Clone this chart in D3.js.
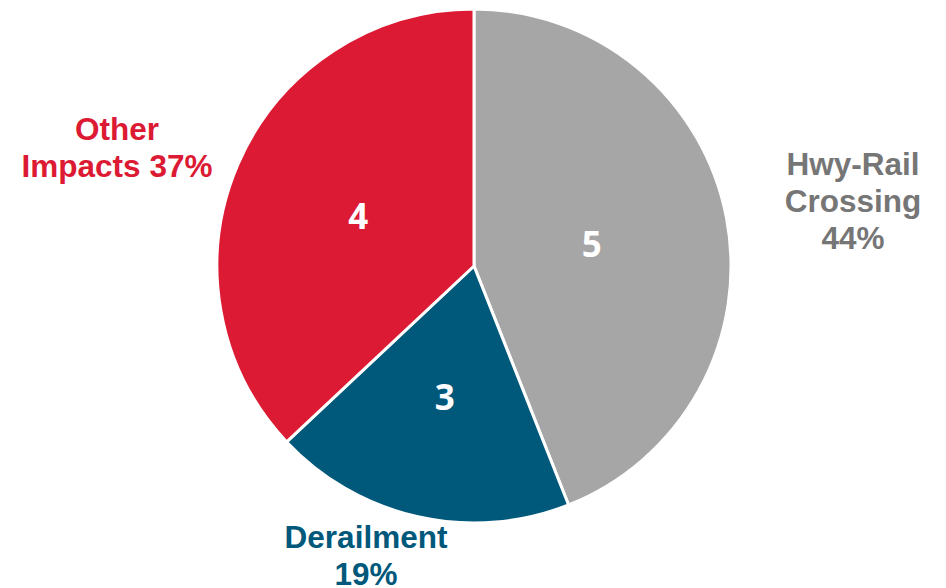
<!DOCTYPE html>
<html>
<head>
<meta charset="utf-8">
<script src="https://cdn.jsdelivr.net/npm/d3@7"></script>
<style>
  html, body { margin: 0; padding: 0; background: #fff; }
  svg { display: block; }
</style>
</head>
<body>
<svg id="chart" width="946" height="588"></svg>
<script>
// data
const categories = ['Hwy-Rail Crossing', 'Derailment', 'Other Impacts']
const counts = [5, 3, 4]
const percents = [44, 19, 37]
const labelLines = [['Hwy-Rail', 'Crossing', '44%'], ['Derailment', '19%'], ['Other', 'Impacts 37%']]

const colors = ['#a6a6a6', '#00587b', '#dc1a33']
const textColors = ['#767676', '#00587b', '#dc1a33']

const cx = 474, cy = 266, radius = 257

// outer label anchors, relative to the pie centre (first baseline)
const labelAnchor = [[379, -91], [-108, 282], [-357, -126]]
// distance of the count labels from the centre, per slice
const countRadius = [120, 134, 126]

const svg = d3.select('#chart')
const g = svg.append('g').attr('transform', `translate(${cx},${cy})`)

const rows = categories.map((c, i) => ({name: c, count: counts[i], pct: percents[i], i}))

const pie = d3.pie().sort(null).value(d => d.pct)
const arc = d3.arc().innerRadius(0).outerRadius(radius)

const arcs = pie(rows)

g.selectAll('path.slice').data(arcs).enter().append('path')
  .attr('class', 'slice')
  .attr('d', arc)
  .attr('fill', d => colors[d.data.i])
  .attr('stroke', '#fff')
  .attr('stroke-width', 3)
  .attr('stroke-linejoin', 'round')

// counts inside the slices
g.selectAll('text.count').data(arcs).enter().append('text')
  .attr('class', 'count')
  .attr('transform', d => {
    const r = countRadius[d.data.i]
    return `translate(${d3.arc().innerRadius(r).outerRadius(r).centroid(d)})`
  })
  .attr('text-anchor', 'middle')
  .attr('dominant-baseline', 'central')
  .attr('fill', '#fff')
  .style('font-family', '"Open Sans", sans-serif')
  .style('font-weight', 700)
  .style('font-size', '35px')
  .text(d => d.data.count)

// category labels outside
const lab = g.selectAll('text.cat').data(arcs).enter().append('text')
  .attr('class', 'cat')
  .attr('text-anchor', 'middle')
  .attr('fill', d => textColors[d.data.i])
  .style('font-family', '"Liberation Sans", Arial, sans-serif')
  .style('font-weight', 700)
  .style('font-size', '31.5px')

lab.selectAll('tspan').data(d => labelLines[d.data.i].map((t, k) => ({t, k, i: d.data.i})))
  .enter().append('tspan')
  .attr('x', d => labelAnchor[d.i][0])
  .attr('y', d => labelAnchor[d.i][1] + d.k * 37)
  .text(d => d.t)
</script>
</body>
</html>
